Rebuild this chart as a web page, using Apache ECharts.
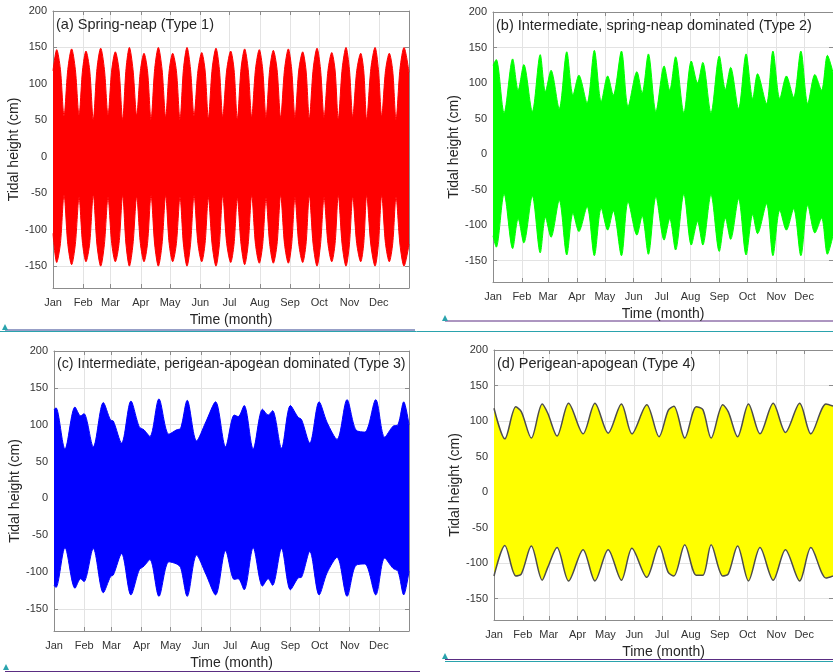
<!DOCTYPE html>
<html><head><meta charset="utf-8">
<script src="https://cdn.jsdelivr.net/npm/echarts@6/dist/echarts.min.js"></script>
<style>html,body{margin:0;padding:0;background:#fff;overflow:hidden}#c{width:833px;height:672px}</style>
</head><body><div id="c"></div>
<script>
// ---- axis labels / ticks ----
const monthNames = ['Jan','Feb','Mar','Apr','May','Jun','Jul','Aug','Sep','Oct','Nov','Dec'];
const monthStarts = [0,31,59,90,120,151,181,212,243,273,304,334];
const yTicks = [-150,-100,-50,0,50,100,150,200];
const titles = ['(a) Spring-neap (Type 1)','(b) Intermediate, spring-neap dominated (Type 2)','(c) Intermediate, perigean-apogean dominated (Type 3)','(d) Perigean-apogean (Type 4)'];

// ---- envelope data (day of year, tidal height cm) ----
const daysA = [0,3.8,7.6,11.3,15.2,19.1,22.9,26.7,30.3,33.8,37.6,41.3,45.1,48.9,52.7,56.4,60.2,63.9,67.7,71.4,74.9,78.3,82,85.8,89.6,93.3,96.9,100.5,104.3,108,111.8,115.5,119.1,122.7,126.5,130.2,133.8,137.4,141,144.6,148.6,152.5,155.9,159.3,163.2,167.1,170.6,174,178.1,182.2,185.6,189,192.8,196.5,200.1,203.7,207.6,211.5,215,218.4,222.2,225.9,229.7,233.4,237.4,241.3,244.7,248.1,252,256,259.4,262.8,266.8,270.7,274.3,277.9,281.9,285.8,289.2,292.5,296.5,300.4,303.9,307.3,311.4,315.5,318.6,321.6,325.9,330.2,333.6,337,340.9,344.8,348.3,351.7,355.8,359.9,365];
const upperA = [118,147,120,56,120,148,120,57,119,145,119,51,121,149,120,57,119,144,119,51,121,150,120,57,118,142,118,51,121,150,120,55,118,142,118,51,121,150,120,56,118,143,119,53,121,149,120,55,119,145,120,52,121,148,120,55,120,147,120,54,120,146,120,54,120,148,120,54,119,144,119,53,121,149,120,54,118,143,119,52,121,150,120,55,118,142,118,51,121,150,120,56,118,142,118,51,121,150,116];
const lowerA = [-105,-145,-119,-52,-120,-148,-120,-56,-119,-144,-119,-52,-121,-150,-120,-56,-119,-144,-119,-53,-121,-150,-120,-55,-119,-144,-119,-53,-121,-150,-120,-53,-119,-144,-119,-55,-121,-150,-120,-53,-119,-144,-119,-56,-121,-150,-120,-53,-119,-145,-120,-57,-120,-148,-120,-53,-120,-146,-120,-57,-120,-146,-120,-53,-120,-146,-120,-56,-120,-145,-120,-53,-121,-150,-120,-56,-119,-144,-119,-53,-121,-150,-120,-55,-119,-144,-119,-53,-121,-150,-120,-53,-119,-144,-119,-55,-121,-150,-120];

const daysB = [0,3.5,11.9,21.1,27,33.1,42.2,50.7,56.3,62.3,71.1,79.2,85.9,92.2,101,108.8,116.2,123.1,129.1,137.9,145,154.5,160.1,166.8,174.9,183.7,189.7,196,204.9,212.9,219.6,225.2,234,242.9,249.5,255.1,263.6,271.7,278.8,284,293.6,300.5,307.9,315,322.7,330.5,337.9,345.6,352.7,359,365];
const upperB = [125,133,58,134,90,126,60,140,88,118,64,144,83,111,72,146,74,110,83,145,67,116,86,141,60,124,90,137,58,131,100,129,58,138,91,122,64,141,78,113,71,145,78,110,80,145,71,112,90,139,115];
const lowerB = [-115,-131,-56,-133,-91,-125,-59,-139,-89,-117,-65,-142,-83,-109,-74,-143,-76,-107,-80,-143,-67,-114,-87,-141,-60,-121,-91,-135,-56,-128,-95,-128,-57,-137,-90,-120,-63,-142,-85,-112,-70,-143,-79,-107,-77,-143,-72,-111,-90,-141,-115];

const daysC = [0,2,11.3,21.6,27.4,30.8,40.4,50.7,58.2,61,69.5,79.1,87.7,92.5,98.6,107.9,118.1,126,130.2,137,146.6,156.2,166.1,176.4,185.3,189.4,195.5,204.8,214.4,220.2,224.7,233.9,243.1,251,254.5,263,272.6,280.8,291,301.3,310.3,319.5,330.8,340,348.6,353.7,359.6,365];
const upperC = [120,123,67,124,112,115,70,130,106,105,75,132,97,93,84,135,87,93,95,133,78,104,131,70,113,111,126,67,121,113,119,68,126,110,107,75,131,103,80,134,93,90,134,83,98,100,131,100];
const lowerC = [-118,-121,-67,-122,-109,-113,-68,-128,-106,-104,-75,-131,-97,-92,-83,-133,-86,-89,-94,-133,-77,-103,-131,-71,-110,-109,-124,-67,-119,-109,-118,-68,-124,-108,-107,-72,-131,-101,-80,-133,-91,-89,-131,-81,-95,-99,-131,-99];

const daysD = [0,11.7,23.5,29.5,40.2,51.9,57.9,67.9,80.3,95.9,108.7,122.9,137.2,148.5,164.5,177.7,187.6,193.7,205.4,217.8,224.9,233.8,246.3,252.3,262.3,274,286.4,300.6,313.8,329.1,341.2,357.5,365];
const upperD = [118,75,120,113,76,124,111,79,125,82,125,83,124,82,123,78,115,121,76,120,116,76,123,113,78,124,82,125,84,125,82,124,121];
const lowerD = [-118,-75,-118,-115,-76,-124,-106,-78,-125,-81,-125,-81,-124,-79,-120,-76,-113,-118,-74,-117,-117,-74,-118,-115,-76,-125,-78,-124,-81,-125,-78,-121,-118];

const panels = [
  {days: daysA, up: upperA, lo: lowerA, fill: '#ff0000', stroke: '#ff0000', lw: 1, grid: {left: 53, top: 11, width: 356, height: 277}, tpos: [56, 17]},
  {days: daysB, up: upperB, lo: lowerB, fill: '#00ff00', stroke: '#00ff00', lw: 1, grid: {left: 493, top: 12, width: 345, height: 270}, tpos: [496, 18]},
  {days: daysC, up: upperC, lo: lowerC, fill: '#0000ff', stroke: '#0000ff', lw: 1, grid: {left: 54, top: 351, width: 355, height: 280}, tpos: [57, 357]},
  {days: daysD, up: upperD, lo: lowerD, fill: '#ffff00', stroke: '#4d4d4d', lw: 1.5, grid: {left: 494, top: 350, width: 342, height: 270}, tpos: [497, 356]}
];

const FONT = 'Liberation Sans, Arial, sans-serif';
const axisGray = '#8c8c8c';
const textGray = '#333333';
const grid = [], xAxis = [], yAxis = [], series = [], title = [];
panels.forEach((p, i) => {
  grid.push(Object.assign({show: false}, p.grid));
  title.push({text: titles[i], left: p.tpos[0], top: p.tpos[1], padding: 0,
    textStyle: {fontSize: i === 2 ? 14.2 : 14.5, fontWeight: 'normal', color: '#262626', fontFamily: FONT}});
  xAxis.push({gridIndex: i, type: 'value', min: 0, max: 365, position: 'bottom',
    axisLine: {show: true, onZero: false, lineStyle: {color: axisGray}},
    axisTick: {show: true, inside: true, length: 4, customValues: monthStarts, lineStyle: {color: axisGray}},
    axisLabel: {customValues: monthStarts, formatter: v => monthNames[monthStarts.indexOf(v)] || '', color: textGray, fontSize: 11, margin: 9, fontFamily: FONT},
    splitLine: {show: true, lineStyle: {color: '#e3e3e3', width: 1}},
    name: 'Time (month)', nameLocation: 'middle', nameGap: 25,
    nameTextStyle: {fontSize: 14, color: '#262626', fontFamily: FONT}});
  xAxis.push({gridIndex: i, type: 'value', min: 0, max: 365, position: 'top',
    axisLine: {show: true, onZero: false, lineStyle: {color: axisGray}},
    axisTick: {show: true, inside: true, length: 4, customValues: monthStarts, lineStyle: {color: axisGray}},
    axisLabel: {show: false}, splitLine: {show: false}});
  yAxis.push({gridIndex: i, type: 'value', min: -180, max: 200, position: 'left',
    axisLine: {show: true, onZero: false, lineStyle: {color: axisGray}},
    axisTick: {show: true, inside: true, length: 4, customValues: yTicks, lineStyle: {color: axisGray}},
    axisLabel: {customValues: yTicks, color: textGray, fontSize: 11, margin: 6, fontFamily: FONT},
    splitLine: {show: true, lineStyle: {color: '#e3e3e3', width: 1}},
    name: 'Tidal height (cm)', nameLocation: 'middle', nameGap: 24,
    nameTextStyle: {fontSize: 14, color: '#262626', fontFamily: FONT}});
  yAxis.push({gridIndex: i, type: 'value', min: -180, max: 200, position: 'right',
    axisLine: {show: true, onZero: false, lineStyle: {color: axisGray}},
    axisTick: {show: true, inside: true, length: 4, customValues: yTicks, lineStyle: {color: axisGray}},
    axisLabel: {show: false}, splitLine: {show: false}});
  // upper envelope fills down past zero, lower envelope fills up past zero (overlap removes seam)
  [[p.up, -20], [p.lo, 20]].forEach(([vals, org]) => {
    series.push({type: 'line', xAxisIndex: 2 * i, yAxisIndex: 2 * i,
      data: p.days.map((d, k) => [d, vals[k]]),
      smooth: 0.3, symbol: 'none', silent: true, clip: true,
      lineStyle: {color: p.stroke, width: p.lw},
      areaStyle: {color: p.fill, opacity: 1, origin: org}, z: 3});
  });
});

const deco = [
  {type: 'line', shape: {x1: 5, y1: 330, x2: 415, y2: 330}, style: {stroke: '#2e3f8f', lineWidth: 1}},
  {type: 'line', shape: {x1: 0, y1: 331.5, x2: 833, y2: 331.5}, style: {stroke: '#2aa3ad', lineWidth: 1}},
  {type: 'polygon', shape: {points: [[2, 330], [5, 324], [8, 330]]}, style: {fill: '#2aa3ad'}},
  {type: 'line', shape: {x1: 445, y1: 321, x2: 833, y2: 321}, style: {stroke: '#5a2d82', lineWidth: 1}},
  {type: 'polygon', shape: {points: [[442, 321], [445, 315], [448, 321]]}, style: {fill: '#2aa3ad'}},
  {type: 'line', shape: {x1: 5, y1: 671.5, x2: 420, y2: 671.5}, style: {stroke: '#5a2d82', lineWidth: 1}},
  {type: 'polygon', shape: {points: [[3, 670], [6, 664], [9, 670]]}, style: {fill: '#2aa3ad'}},
  {type: 'line', shape: {x1: 445, y1: 659.5, x2: 833, y2: 659.5}, style: {stroke: '#5a2d82', lineWidth: 1}},
  {type: 'line', shape: {x1: 445, y1: 661.5, x2: 833, y2: 661.5}, style: {stroke: '#2aa3ad', lineWidth: 1}},
  {type: 'polygon', shape: {points: [[442, 659], [445, 653], [448, 659]]}, style: {fill: '#2aa3ad'}}
];

const chart = echarts.init(document.getElementById('c'), null, {renderer: 'canvas'});
chart.setOption({animation: false, backgroundColor: '#ffffff', title, grid, xAxis, yAxis, series, graphic: deco});
</script></body></html>
